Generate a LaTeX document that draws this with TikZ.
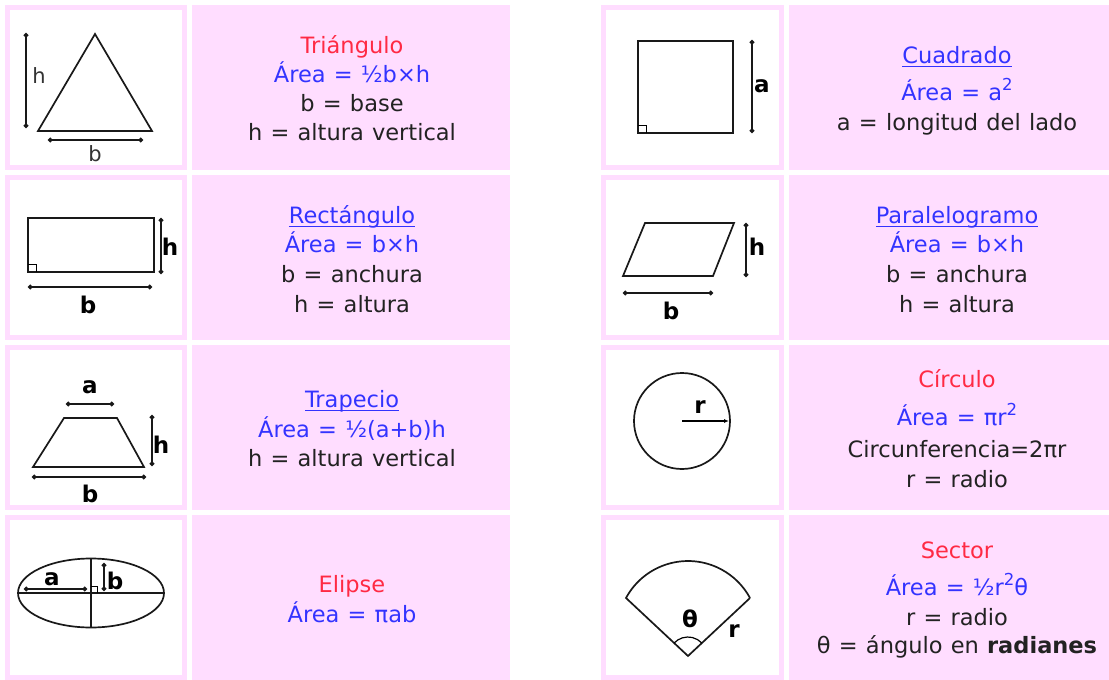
\documentclass[tikz,border=0pt]{standalone}
\usepackage{fontspec}
\setmainfont{DejaVu Sans}[WordSpace=1.15]
\usetikzlibrary{arrows.meta}
\definecolor{pinkc}{HTML}{FFDDFF}
\definecolor{redc}{HTML}{FF2A44}
\definecolor{bluec}{HTML}{3333FF}
\definecolor{textc}{HTML}{222222}
\newlength\ulw
\newcommand\ulink[1]{\settowidth\ulw{#1}\rlap{\rule[-4pt]{\ulw}{1.3pt}}#1}
\newcommand\sqr{\raisebox{0.42em}{\fontsize{16.5}{16.5}\selectfont 2}}
\newcommand\figcellbox[4]{\fill[pinkc] (#1,#2) rectangle (#3,#4); \fill[white] ({#1+5},{#2+5}) rectangle ({#3-5},{#4-5});}
\newcommand\textcellbox[4]{\fill[pinkc] (#1,#2) rectangle (#3,#4);}
\tikzset{
  shp/.style={line width=1.7pt, draw=black!90},
  dim/.style={line width=1.4pt, draw=black!90, {Circle[length=4.5pt]}-{Circle[length=4.5pt]}},
  lbl/.style={font=\fontsize{23}{23}\selectfont\bfseries, inner sep=0pt, text=black},
  lblr/.style={font=\fontsize{21}{21}\selectfont, inner sep=0pt, text=black!80},
  txt/.style={anchor=base, inner sep=0pt, font=\fontsize{22.5}{27}\selectfont, text=textc},
  ttl/.style={txt, text=redc},
  frm/.style={txt, text=bluec},
}
\begin{document}
\begin{tikzpicture}[x=1pt,y=-1pt]
\useasboundingbox (0,0) rectangle (1109,680);
% cells
\foreach \ya/\yb in {5/170,175/340,345/510,515/680}{
  \figcellbox{5}{\ya}{187}{\yb}
  \textcellbox{192}{\ya}{510}{\yb}
  \figcellbox{601}{\ya}{784}{\yb}
  \textcellbox{789}{\ya}{1109}{\yb}
}
% ---------- Triangle
\draw[shp, line join=miter] (95,34) -- (152,131) -- (38,131) -- cycle;
\coordinate (th1) at (26,33); \coordinate (th2) at (26,128);
\draw[dim] (th1) -- (th2);
\coordinate (tb1) at (48,140); \coordinate (tb2) at (143,140);
\draw[dim] (tb1) -- (tb2);
\node[lblr] (tlh) at (39,76) {h};
\node[lblr] (tlb) at (95,154) {b};
\node[ttl] (t1) at (352,53) {Triángulo};
\node[frm] (t2) at (352,82) {Área = ½b×h};
\node[txt] (t3) at (352,111) {b = base};
\node[txt] (t4) at (352,140) {h = altura vertical};
% ---------- Rectangle
\draw[shp] (28,218) rectangle (154,272);
\draw[line width=1pt] (28,264) -- (36,264) -- (36,272);
\coordinate (rh1) at (161,218); \coordinate (rh2) at (161,274);
\draw[dim] (rh1) -- (rh2);
\coordinate (rb1) at (28,287); \coordinate (rb2) at (152,287);
\draw[dim] (rb1) -- (rb2);
\node[lbl] (rlh) at (170,247) {h};
\node[lbl] (rlb) at (88,305) {b};
\node[frm] (r1) at (352,223) {\ulink{Rectángulo}};
\node[frm] (r2) at (352,252) {Área = b×h};
\node[txt] (r3) at (352,282) {b = anchura};
\node[txt] (r4) at (352,312) {h = altura};
% ---------- Trapezoid
\draw[shp] (64,418) -- (117,418) -- (144,467) -- (33,467) -- cycle;
\coordinate (za1) at (66,404); \coordinate (za2) at (114,404);
\draw[dim] (za1) -- (za2);
\coordinate (zh1) at (152,415); \coordinate (zh2) at (152,466);
\draw[dim] (zh1) -- (zh2);
\coordinate (zb1) at (32,477); \coordinate (zb2) at (146,477);
\draw[dim] (zb1) -- (zb2);
\node[lbl] (zla) at (90,387) {a};
\node[lbl] (zlh) at (161,445) {h};
\node[lbl] (zlb) at (90,494) {b};
\node[frm] (z1) at (352,407) {\ulink{Trapecio}};
\node[frm] (z2) at (352,437) {Área = ½(a+b)h};
\node[txt] (z3) at (352,466) {h = altura vertical};
% ---------- Ellipse
\draw[shp] (91,593) ellipse[x radius=73, y radius=34.5];
\draw[shp] (18,593) -- (164,593);
\draw[shp] (91,558) -- (91,628);
\draw[line width=1pt] (91,586) -- (97,586) -- (97,593);
\coordinate (ea1) at (24,589); \coordinate (ea2) at (87,589);
\draw[dim] (ea1) -- (ea2);
\coordinate (eb1) at (104,563); \coordinate (eb2) at (104,591);
\draw[dim] (eb1) -- (eb2);
\node[lbl] (ela) at (52,579) {a};
\node[lbl] (elb) at (115,581) {b};
\node[ttl] (e1) at (352,592) {Elipse};
\node[frm] (e2) at (352,622) {Área = πab};
% ---------- Square
\draw[shp] (638,41) rectangle (733,133);
\draw[line width=1pt] (638,125) -- (646,125) -- (646,133);
\coordinate (sa1) at (752,40); \coordinate (sa2) at (752,133);
\draw[dim] (sa1) -- (sa2);
\node[lbl] (sla) at (762,86) {a};
\node[frm] (s1) at (957,63) {\ulink{Cuadrado}};
\node[frm] (s2) at (957,100) {Área = a\sqr};
\node[txt] (s3) at (957,130) {a = longitud del lado};
% ---------- Parallelogram
\draw[shp] (645,223) -- (734,223) -- (713,276) -- (623,276) -- cycle;
\coordinate (ph1) at (746,223); \coordinate (ph2) at (746,277);
\draw[dim] (ph1) -- (ph2);
\coordinate (pb1) at (623,293); \coordinate (pb2) at (713,293);
\draw[dim] (pb1) -- (pb2);
\node[lbl] (plh) at (757,247) {h};
\node[lbl] (plb) at (671,311) {b};
\node[frm] (p1) at (957,223) {\ulink{Paralelogramo}};
\node[frm] (p2) at (957,252) {Área = b×h};
\node[txt] (p3) at (957,282) {b = anchura};
\node[txt] (p4) at (957,312) {h = altura};
% ---------- Circle
\coordinate (cc) at (682,421);
\draw[shp] (cc) circle[radius=48];
\coordinate (cr) at (729,421);
\draw[line width=1.4pt, -{Latex[length=5pt,width=4pt]}] (cc) -- (cr);
\node[lbl] (clr) at (700,407) {r};
\node[ttl] (c1) at (957,387) {Círculo};
\node[frm] (c2) at (957,425) {Área = πr\sqr};
\node[txt] (c3) at (957,457) {Circunferencia=2πr};
\node[txt] (c4) at (957,487) {r = radio};
% ---------- Sector
\coordinate (ap) at (688,656);
\coordinate (sl) at (626,598);
\coordinate (sr) at (750,598);
\draw[shp, line join=miter] (sr) -- (ap) -- (sl) arc[start angle=208.4, end angle=331.6, radius=70.5];
\draw[line width=1.2pt] (ap) ++(223:19) arc[start angle=223, end angle=317, radius=19];
\node[lbl] (xlt) at (690,619) {θ};
\node[lbl] (xlr) at (734,631) {r};
\node[ttl] (x1) at (957,558) {Sector};
\node[frm] (x2) at (957,595) {Área = ½r\sqr θ};
\node[txt] (x3) at (957,625) {r = radio};
\node[txt] (x4) at (957,653) {θ = ángulo en \textbf{radianes}};
\end{tikzpicture}
\end{document}
